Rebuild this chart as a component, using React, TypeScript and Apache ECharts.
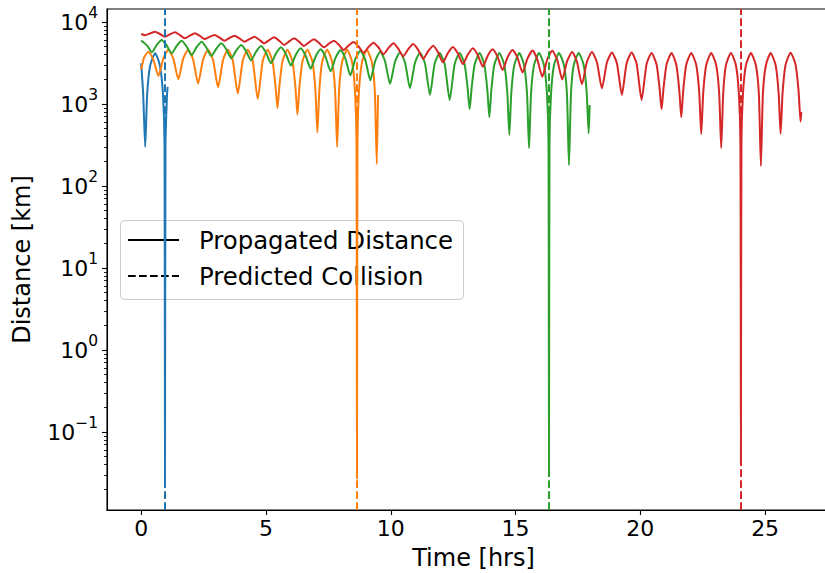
import React, { useEffect, useRef } from "react";
import * as echarts from "echarts";

// ---- data (time in hrs, distance in km) ----
const blueT = [0, 0.08, 0.16, 0.24, 0.36, 0.56, 0.75, 0.874, 0.934, 0.954, 0.974, 1.034, 1.06];
const blueD = [3130, 1320, 300, 1320, 2950, 4150, 2950, 1290, 330, 0.021, 330, 1290, 1620];

const orangeT = [0, 0.12, 0.29, 0.49, 0.69, 0.89, 1.09, 1.29, 1.49, 1.68, 1.88, 2.08, 2.28, 2.48, 2.68, 2.88, 3.08, 3.28, 3.47, 3.67, 3.87, 4.07, 4.27, 4.47, 4.67, 4.87, 5.07, 5.26, 5.38, 5.46, 5.54, 5.66, 5.86, 6.06, 6.18, 6.26, 6.34, 6.46, 6.66, 6.86, 6.98, 7.06, 7.14, 7.25, 7.45, 7.65, 7.77, 7.85, 7.93, 8.05, 8.25, 8.45, 8.566, 8.626, 8.646, 8.666, 8.726, 8.85, 9.04, 9.24, 9.36, 9.44, 9.49];
const orangeD = [2650, 3700, 4350, 3450, 2200, 3600, 4600, 3550, 2000, 3550, 4600, 3490, 1780, 3490, 4600, 3440, 1600, 3440, 4600, 3390, 1340, 3390, 4600, 3350, 1150, 3350, 4600, 3310, 1680, 890, 1680, 3310, 4600, 3290, 1610, 740, 1610, 3290, 4600, 3270, 1500, 450, 1500, 3270, 4600, 3260, 1460, 300, 1460, 3260, 4600, 3250, 1430, 360, 0.027, 360, 1430, 3250, 4600, 3260, 1440, 186, 1290];

const greenT = [0, 0.23, 0.43, 0.62, 0.82, 1.02, 1.22, 1.42, 1.62, 1.82, 2.02, 2.22, 2.42, 2.61, 2.81, 3.01, 3.21, 3.41, 3.61, 3.81, 4.01, 4.2, 4.4, 4.6, 4.8, 5.0, 5.2, 5.4, 5.6, 5.8, 6.0, 6.19, 6.39, 6.59, 6.79, 6.99, 7.19, 7.39, 7.59, 7.79, 7.99, 8.18, 8.38, 8.58, 8.78, 8.98, 9.18, 9.38, 9.58, 9.77, 9.97, 10.17, 10.37, 10.57, 10.77, 10.97, 11.17, 11.37, 11.57, 11.76, 11.96, 12.16, 12.36, 12.56, 12.76, 12.96, 13.08, 13.16, 13.24, 13.36, 13.56, 13.75, 13.87, 13.95, 14.03, 14.15, 14.35, 14.55, 14.67, 14.75, 14.83, 14.95, 15.15, 15.34, 15.46, 15.54, 15.62, 15.74, 15.94, 16.14, 16.26, 16.32, 16.34, 16.36, 16.42, 16.54, 16.74, 16.94, 17.06, 17.14, 17.22, 17.33, 17.53, 17.73, 17.85, 17.93, 17.97];
const greenD = [5950, 5190, 4300, 5240, 6030, 5180, 4150, 5110, 5920, 5030, 3950, 4930, 5750, 4890, 3850, 4740, 5490, 4640, 3600, 4500, 5250, 4420, 3400, 4330, 5100, 4240, 3150, 4130, 4910, 4050, 2950, 3970, 4780, 3880, 2700, 3800, 4640, 3730, 2500, 3680, 4560, 3590, 2230, 3530, 4470, 3450, 1950, 3370, 4350, 3320, 1760, 3270, 4270, 3210, 1560, 3190, 4230, 3130, 1290, 3110, 4200, 3070, 1120, 3070, 4200, 3030, 1560, 860, 1560, 3030, 4200, 3010, 1480, 690, 1480, 3010, 4200, 2990, 1370, 420, 1370, 2990, 4200, 2980, 1330, 290, 1330, 2980, 4200, 2970, 1300, 330, 0.034, 330, 1300, 2970, 4200, 2970, 1310, 180, 1310, 2970, 4200, 2990, 1370, 438, 970];

const redT = [0, 0.16, 0.36, 0.56, 0.75, 0.954, 1.15, 1.35, 1.55, 1.75, 1.95, 2.15, 2.35, 2.54, 2.74, 2.94, 3.14, 3.34, 3.54, 3.74, 3.94, 4.14, 4.34, 4.54, 4.73, 4.93, 5.13, 5.33, 5.53, 5.73, 5.93, 6.13, 6.33, 6.52, 6.72, 6.92, 7.12, 7.32, 7.52, 7.72, 7.92, 8.11, 8.31, 8.51, 8.71, 8.91, 9.11, 9.31, 9.51, 9.71, 9.91, 10.11, 10.3, 10.5, 10.7, 10.9, 11.1, 11.3, 11.5, 11.7, 11.89, 12.09, 12.29, 12.49, 12.69, 12.89, 13.09, 13.29, 13.49, 13.69, 13.88, 14.08, 14.28, 14.48, 14.68, 14.88, 15.08, 15.28, 15.48, 15.68, 15.87, 16.07, 16.27, 16.47, 16.67, 16.87, 17.07, 17.27, 17.46, 17.66, 17.86, 18.06, 18.26, 18.46, 18.66, 18.86, 19.06, 19.26, 19.45, 19.65, 19.85, 20.05, 20.25, 20.45, 20.65, 20.77, 20.85, 20.93, 21.05, 21.25, 21.44, 21.56, 21.64, 21.72, 21.84, 22.04, 22.24, 22.36, 22.44, 22.52, 22.64, 22.84, 23.04, 23.16, 23.24, 23.32, 23.43, 23.63, 23.83, 23.95, 24.01, 24.03, 24.05, 24.11, 24.23, 24.43, 24.63, 24.75, 24.83, 24.91, 25.03, 25.22, 25.42, 25.54, 25.62, 25.7, 25.82, 26.02, 26.22, 26.34, 26.42, 26.45];
const redD = [7140, 6900, 7270, 7620, 7140, 6620, 7060, 7480, 6930, 6320, 6810, 7270, 6760, 6210, 6590, 6940, 6450, 5920, 6380, 6810, 6300, 5750, 6200, 6620, 6080, 5490, 6020, 6500, 5910, 5250, 5810, 6320, 5740, 5100, 5650, 6150, 5570, 4910, 5440, 5920, 5280, 4560, 5160, 5700, 5020, 4230, 4960, 5600, 4890, 4050, 4830, 5500, 4730, 3800, 4670, 5400, 4570, 3550, 4420, 5150, 4300, 3220, 4180, 4950, 4120, 3070, 4020, 4790, 3940, 2850, 3860, 4650, 3760, 2590, 3710, 4560, 3650, 2420, 3600, 4480, 3510, 2150, 3490, 4450, 3450, 1990, 3350, 4300, 3280, 1740, 3280, 4300, 3230, 1550, 3200, 4250, 3140, 1290, 3140, 4250, 3110, 1120, 3070, 4200, 3030, 1560, 860, 1560, 3030, 4200, 3010, 1480, 690, 1480, 3010, 4200, 2990, 1370, 430, 1370, 2990, 4200, 2980, 1330, 290, 1330, 2980, 4200, 2970, 1300, 330, 0.04, 330, 1300, 2970, 4200, 2970, 1310, 175, 1310, 2970, 4200, 2990, 1370, 435, 1370, 3010, 4230, 3020, 1440, 610, 800];

const collisionTimes = [0.954, 8.646, 16.34, 24.03];
const seriesColors = ["#1f77b4", "#ff7f0e", "#2ca02c", "#d62728"];

const xTicks = [0, 5, 10, 15, 20, 25];
const yMajorTicks = [0.1, 1, 10, 100, 1000, 10000];
const yMinorTicks = [
  0.02, 0.03, 0.04, 0.05, 0.06, 0.07, 0.08, 0.09,
  0.2, 0.3, 0.4, 0.5, 0.6, 0.7, 0.8, 0.9,
  2, 3, 4, 5, 6, 7, 8, 9,
  20, 30, 40, 50, 60, 70, 80, 90,
  200, 300, 400, 500, 600, 700, 800, 900,
  2000, 3000, 4000, 5000, 6000, 7000, 8000, 9000,
];

const legendLabels = ["Propagated Distance", "Predicted Collision"];

const X_MIN = -1.37;
const X_MAX = 28.0;
const Y_MIN = 0.011194;
const Y_MAX = 14406;

const FONT = "DejaVu Sans";

function pairs(t: number[], d: number[]) {
  return t.map((v, i) => [v, d[i]]);
}

const seriesData = [
  pairs(blueT, blueD),
  pairs(orangeT, orangeD),
  pairs(greenT, greenD),
  pairs(redT, redD),
];

export default function App() {
  const ref = useRef<HTMLDivElement>(null);

  useEffect(() => {
    if (!ref.current) return;
    const chart = echarts.init(ref.current, undefined, { renderer: "svg" });

    const dash = [7.7, 3.3];

    const series = seriesData.map((data, i) => ({
      type: "line",
      data,
      yAxisIndex: 0,
      showSymbol: false,
      symbol: "none",
      smooth: 0.2,
      lineStyle: { color: seriesColors[i], width: 2 },
      itemStyle: { color: seriesColors[i] },
      silent: true,
      markLine: {
        silent: true,
        symbol: ["none", "none"],
        label: { show: false },
        lineStyle: { color: seriesColors[i], width: 2, type: dash },
        data: [{ xAxis: collisionTimes[i] }],
      },
    }));

    const supExp = (v: number) => {
      const e = Math.round(Math.log10(v));
      const s = e < 0 ? "\u2212" + String(-e) : String(e);
      return "{b|10}{s|" + s + "}";
    };

    const option: any = {
      animation: false,
      backgroundColor: "#ffffff",
      grid: {
        left: 107,
        top: 9,
        width: 733,
        height: 501,
        outerBoundsMode: "none",
        containLabel: false,
        show: true,
        borderColor: "#000",
        borderWidth: 1.1,
        backgroundColor: "transparent",
      },
      xAxis: {
        type: "value",
        min: X_MIN,
        max: X_MAX,
        name: "Time [hrs]",
        nameLocation: "middle",
        nameGap: 36,
        nameTextStyle: { fontSize: 24, fontFamily: FONT, color: "#000" },
        axisLine: { show: true, onZero: false, lineStyle: { color: "#000", width: 1.1 } },
        axisTick: { show: true, length: 5, customValues: xTicks, lineStyle: { color: "#000", width: 1.1 } },
        axisLabel: {
          customValues: xTicks,
          fontSize: 22,
          fontFamily: FONT,
          color: "#000",
          margin: 7,
          formatter: (v: number) => String(v),
        },
        splitLine: { show: false },
      },
      yAxis: [
        {
          type: "log",
          logBase: 10,
          min: Y_MIN,
          max: Y_MAX,
          position: "left",
          name: "Distance [km]",
          nameLocation: "middle",
          nameRotate: 90,
          nameGap: 73,
          nameTextStyle: { fontSize: 24, fontFamily: FONT, color: "#000" },
          axisLine: { show: true, onZero: false, lineStyle: { color: "#000", width: 1.1 } },
          axisTick: { show: true, length: 5, customValues: yMajorTicks, lineStyle: { color: "#000", width: 1.1 } },
          axisLabel: {
            customValues: yMajorTicks,
            margin: 9,
            color: "#000",
            formatter: supExp,
            rich: {
              b: { fontSize: 22, fontFamily: FONT, color: "#000", lineHeight: 34, verticalAlign: "middle" },
              s: { fontSize: 15.5, fontFamily: FONT, color: "#000", lineHeight: 16, verticalAlign: "top" },
            },
          },
          splitLine: { show: false },
        },
        {
          type: "log",
          logBase: 10,
          min: Y_MIN,
          max: Y_MAX,
          position: "left",
          offset: 0,
          axisLine: { show: false, onZero: false },
          axisTick: { show: true, length: 3, customValues: yMinorTicks, lineStyle: { color: "#000", width: 0.85 } },
          axisLabel: { show: false },
          splitLine: { show: false },
        },
      ],
      series,
      graphic: [
        {
          type: "group",
          z: 100,
          children: [
            {
              type: "rect",
              shape: { x: 120.5, y: 220.5, width: 343, height: 79, r: 4 },
              style: { fill: "rgba(255,255,255,0.8)", stroke: "#cccccc", lineWidth: 1 },
            },
            {
              type: "line",
              shape: { x1: 128, y1: 240, x2: 179, y2: 240 },
              style: { stroke: "#000", lineWidth: 2 },
            },
            {
              type: "line",
              shape: { x1: 128, y1: 276, x2: 179, y2: 276 },
              style: { stroke: "#000", lineWidth: 2, lineDash: dash },
            },
            {
              type: "text",
              x: 199,
              y: 240,
              style: { text: legendLabels[0], fontSize: 24.4, fontFamily: FONT, fill: "#000", verticalAlign: "middle", align: "left" },
            },
            {
              type: "text",
              x: 199,
              y: 276,
              style: { text: legendLabels[1], fontSize: 24.4, fontFamily: FONT, fill: "#000", verticalAlign: "middle", align: "left" },
            },
          ],
        },
      ],
    };

    chart.setOption(option);
    return () => chart.dispose();
  }, []);

  return (
    <div
      ref={ref}
      style={{ position: "absolute", left: 0, top: 0, width: 825, height: 573 }}
    />
  );
}
